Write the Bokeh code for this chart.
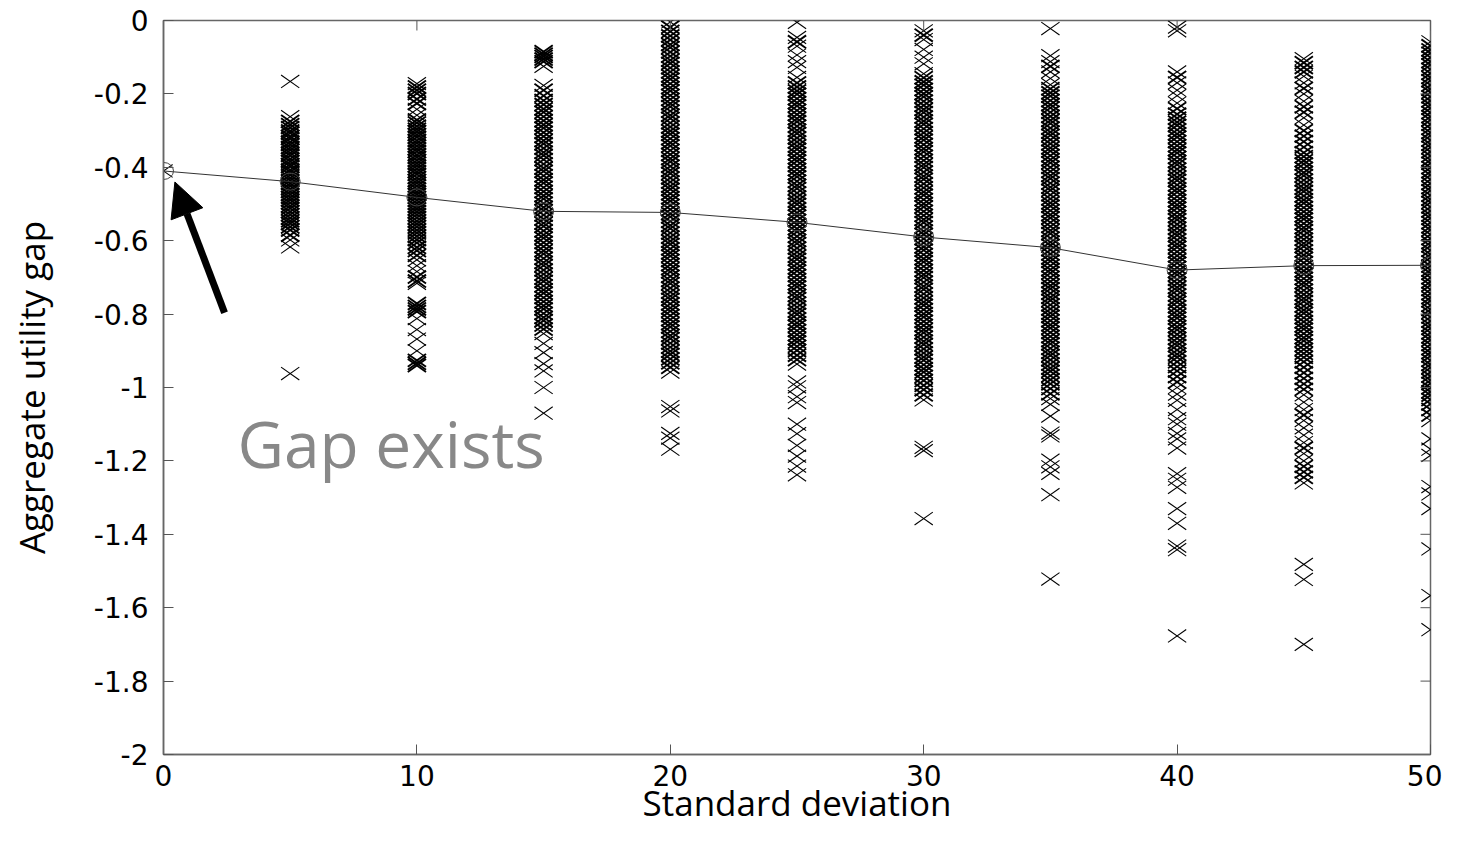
import numpy as np
from bokeh.plotting import figure
from bokeh.models import (ColumnDataSource, Range1d, FixedTicker,
                          Arrow, NormalHead, Label)
from bokeh.embed import file_html
from bokeh.resources import INLINE

# ---------------- data ----------------
std_devs = [0, 5, 10, 15, 20, 25, 30, 35, 40, 45, 50]

gap_sd0 = [-0.41]
gap_sd5 = [-0.166, -0.262, -0.275, -0.284, -0.292, -0.301, -0.307, -0.316, -0.322, -0.331, -0.338,
           -0.346, -0.353, -0.361, -0.368, -0.377, -0.384, -0.392, -0.398, -0.407, -0.413, -0.421,
           -0.429, -0.436, -0.444, -0.451, -0.459, -0.466, -0.474, -0.482, -0.489, -0.497, -0.505,
           -0.512, -0.521, -0.529, -0.538, -0.546, -0.553, -0.562, -0.571, -0.585, -0.598, -0.617,
           -0.962]
gap_sd10 = [-0.172, -0.181, -0.19, -0.199, -0.214, -0.226, -0.242, -0.258, -0.271, -0.279, -0.288,
            -0.296, -0.303, -0.311, -0.318, -0.327, -0.334, -0.342, -0.35, -0.357, -0.366, -0.373,
            -0.381, -0.389, -0.396, -0.404, -0.412, -0.419, -0.428, -0.436, -0.443, -0.451, -0.459,
            -0.467, -0.474, -0.482, -0.49, -0.498, -0.506, -0.513, -0.521, -0.529, -0.537, -0.546,
            -0.554, -0.562, -0.571, -0.579, -0.588, -0.597, -0.606, -0.618, -0.627, -0.64, -0.652,
            -0.668, -0.684, -0.699, -0.71, -0.716, -0.771, -0.779, -0.786, -0.793, -0.812, -0.842,
            -0.868, -0.9, -0.926, -0.934, -0.94]
gap_sd15 = [-0.085, -0.092, -0.098, -0.105, -0.112, -0.125, -0.177, -0.19, -0.205,
            -0.218, -0.229, -0.241, -0.25, -0.262, -0.273, -0.284, -0.293, -0.305, -0.316, -0.327,
            -0.336, -0.348, -0.359, -0.368, -0.379, -0.391, -0.402, -0.411, -0.423, -0.434, -0.443,
            -0.455, -0.466, -0.477, -0.486, -0.498, -0.509, -0.518, -0.53, -0.541, -0.552, -0.561,
            -0.573, -0.584, -0.593, -0.605, -0.616, -0.627, -0.636, -0.648, -0.659, -0.668, -0.68,
            -0.691, -0.702, -0.711, -0.723, -0.734, -0.743, -0.755, -0.766, -0.777, -0.786, -0.798,
            -0.809, -0.818, -0.83, -0.841, -0.853, -0.88, -0.905, -0.935, -0.955, -1.0, -1.07]
gap_sd20 = [-0.004, -0.018, -0.03, -0.042, -0.053, -0.065, -0.074, -0.086, -0.097, -0.108, -0.117,
            -0.129, -0.14, -0.151, -0.16, -0.172, -0.183, -0.192, -0.204, -0.215, -0.226, -0.235,
            -0.247, -0.258, -0.267, -0.279, -0.29, -0.301, -0.31, -0.322, -0.333, -0.342, -0.354,
            -0.365, -0.376, -0.385, -0.397, -0.408, -0.417, -0.429, -0.44, -0.451, -0.46, -0.472,
            -0.483, -0.492, -0.504, -0.515, -0.526, -0.535, -0.547, -0.558, -0.567, -0.579, -0.59,
            -0.601, -0.61, -0.622, -0.633, -0.642, -0.654, -0.665, -0.676, -0.685, -0.697, -0.708,
            -0.717, -0.729, -0.74, -0.751, -0.76, -0.772, -0.783, -0.792, -0.804, -0.815, -0.826,
            -0.835, -0.847, -0.858, -0.867, -0.879, -0.89, -0.901, -0.91, -0.922, -0.933, -0.945,
            -0.958, -1.052, -1.064, -1.125, -1.138, -1.168]
gap_sd25 = [-0.005, -0.046, -0.058, -0.07, -0.094, -0.112, -0.128, -0.155,
            -0.17, -0.181, -0.192, -0.201, -0.213, -0.224, -0.233, -0.245, -0.256, -0.267, -0.276,
            -0.288, -0.299, -0.308, -0.32, -0.331, -0.342, -0.351, -0.363, -0.374, -0.383, -0.395,
            -0.406, -0.417, -0.426, -0.438, -0.449, -0.458, -0.47, -0.481, -0.492, -0.501, -0.513,
            -0.524, -0.533, -0.545, -0.556, -0.567, -0.576, -0.588, -0.599, -0.608, -0.62, -0.631,
            -0.642, -0.651, -0.663, -0.674, -0.683, -0.695, -0.706, -0.717, -0.726, -0.738, -0.749,
            -0.758, -0.77, -0.781, -0.792, -0.801, -0.813, -0.824, -0.833, -0.845, -0.856, -0.867,
            -0.876, -0.888, -0.899, -0.912, -0.924, -0.936, -0.985, -0.998, -1.025, -1.041, -1.1,
            -1.126, -1.158, -1.187, -1.214, -1.238]
gap_sd30 = [-0.028, -0.04, -0.052, -0.079, -0.1, -0.118,
            -0.145, -0.156, -0.167, -0.176, -0.188, -0.199, -0.208, -0.22, -0.231, -0.242, -0.251,
            -0.263, -0.274, -0.283, -0.295, -0.306, -0.317, -0.326, -0.338, -0.349, -0.358, -0.37,
            -0.381, -0.392, -0.401, -0.413, -0.424, -0.433, -0.445, -0.456, -0.467, -0.476, -0.488,
            -0.499, -0.508, -0.52, -0.531, -0.542, -0.551, -0.563, -0.574, -0.583, -0.595, -0.606,
            -0.617, -0.626, -0.638, -0.649, -0.658, -0.67, -0.681, -0.692, -0.701, -0.713, -0.724,
            -0.733, -0.745, -0.756, -0.767, -0.776, -0.788, -0.799, -0.808, -0.82, -0.831, -0.842,
            -0.851, -0.863, -0.874, -0.883, -0.895, -0.906, -0.917, -0.926, -0.938, -0.949, -0.958,
            -0.97, -0.981, -0.994, -1.006, -1.02, -1.034, -1.163, -1.172, -1.357]
gap_sd35 = [-0.022, -0.096, -0.112, -0.125, -0.14, -0.158,
            -0.175, -0.186, -0.197, -0.206, -0.218, -0.229, -0.238, -0.25, -0.261, -0.272, -0.281,
            -0.293, -0.304, -0.313, -0.325, -0.336, -0.347, -0.356, -0.368, -0.379, -0.388, -0.4,
            -0.411, -0.422, -0.431, -0.443, -0.454, -0.463, -0.475, -0.486, -0.497, -0.506, -0.518,
            -0.529, -0.538, -0.55, -0.561, -0.572, -0.581, -0.593, -0.604, -0.613, -0.625, -0.636,
            -0.647, -0.656, -0.668, -0.679, -0.688, -0.7, -0.711, -0.722, -0.731, -0.743, -0.754,
            -0.763, -0.775, -0.786, -0.797, -0.806, -0.818, -0.829, -0.838, -0.85, -0.861, -0.872,
            -0.881, -0.893, -0.904, -0.913, -0.925, -0.936, -0.947, -0.956, -0.968, -0.979, -0.99,
            -1.003, -1.017, -1.03, -1.046, -1.078, -1.124, -1.132, -1.198, -1.216, -1.234, -1.292,
            -1.522]
gap_sd40 = [-0.018, -0.028, -0.14, -0.155, -0.17, -0.19, -0.205, -0.225, -0.24,
            -0.255, -0.266, -0.277, -0.286, -0.298, -0.309, -0.318, -0.33, -0.341, -0.352, -0.361,
            -0.373, -0.384, -0.393, -0.405, -0.416, -0.427, -0.436, -0.448, -0.459, -0.468, -0.48,
            -0.491, -0.502, -0.511, -0.523, -0.534, -0.543, -0.555, -0.566, -0.577, -0.586, -0.598,
            -0.609, -0.618, -0.63, -0.641, -0.652, -0.661, -0.673, -0.684, -0.693, -0.705, -0.716,
            -0.727, -0.736, -0.748, -0.759, -0.768, -0.78, -0.791, -0.802, -0.811, -0.823, -0.834,
            -0.843, -0.855, -0.866, -0.877, -0.886, -0.898, -0.909, -0.918, -0.93, -0.943, -0.955,
            -0.97, -0.985, -1.0, -1.018, -1.035, -1.06, -1.085, -1.1, -1.125, -1.14, -1.165,
            -1.235, -1.25, -1.272, -1.33, -1.37, -1.432, -1.442, -1.677]
gap_sd45 = [-0.104, -0.115, -0.128, -0.14, -0.152, -0.17, -0.185, -0.2, -0.22, -0.235, -0.25,
            -0.265, -0.285, -0.3, -0.315, -0.33, -0.345,
            -0.36, -0.371, -0.382, -0.391, -0.403, -0.414, -0.423, -0.435, -0.446, -0.457, -0.466,
            -0.478, -0.489, -0.498, -0.51, -0.521, -0.532, -0.541, -0.553, -0.564, -0.573, -0.585,
            -0.596, -0.607, -0.616, -0.628, -0.639, -0.648, -0.66, -0.671, -0.682, -0.691, -0.703,
            -0.714, -0.723, -0.735, -0.746, -0.757, -0.766, -0.778, -0.789, -0.798, -0.81, -0.821,
            -0.832, -0.841, -0.853, -0.864, -0.873, -0.885, -0.896, -0.907, -0.918, -0.93,
            -0.945, -0.96, -0.975, -0.99, -1.005, -1.02, -1.04, -1.06, -1.075, -1.09, -1.11, -1.13,
            -1.15, -1.165, -1.18, -1.2, -1.215, -1.23, -1.245, -1.26, -1.482, -1.523, -1.7]
gap_sd50 = [-0.058, -0.069, -0.08, -0.089, -0.101, -0.112, -0.121, -0.133, -0.144, -0.155, -0.164,
            -0.176, -0.187, -0.196, -0.208, -0.219, -0.23, -0.239, -0.251, -0.262, -0.271, -0.283,
            -0.294, -0.305, -0.314, -0.326, -0.337, -0.346, -0.358, -0.369, -0.38, -0.389, -0.401,
            -0.412, -0.421, -0.433, -0.444, -0.455, -0.464, -0.476, -0.487, -0.496, -0.508, -0.519,
            -0.53, -0.539, -0.551, -0.562, -0.571, -0.583, -0.594, -0.605, -0.614, -0.626, -0.637,
            -0.646, -0.658, -0.669, -0.68, -0.689, -0.701, -0.712, -0.721, -0.733, -0.744, -0.755,
            -0.764, -0.776, -0.787, -0.796, -0.808, -0.819, -0.83, -0.839, -0.851, -0.862, -0.871,
            -0.883, -0.894, -0.905, -0.914, -0.926, -0.937, -0.946, -0.958, -0.969, -0.98, -0.989,
            -1.001, -1.012, -1.021, -1.033, -1.045, -1.06, -1.075, -1.09, -1.14, -1.168, -1.185,
            -1.27, -1.29, -1.33, -1.44, -1.567, -1.66]

mean_gap = [-0.41, -0.439, -0.482, -0.52, -0.523, -0.55, -0.59, -0.619, -0.68, -0.668, -0.667]

x_ticks = [0, 10, 20, 30, 40, 50]
y_ticks = [0, -0.2, -0.4, -0.6, -0.8, -1, -1.2, -1.4, -1.6, -1.8, -2]
y_tick_labels = ["0", "-0.2", "-0.4", "-0.6", "-0.8", "-1", "-1.2", "-1.4", "-1.6", "-1.8", "-2"]

x_title = "Standard deviation"
y_title = "Aggregate utility gap"
note_text = "Gap exists"

# ---------------- build ----------------
X_MIN, X_MAX, Y_MIN, Y_MAX = 0, 50, -2, 0
columns = [gap_sd0, gap_sd5, gap_sd10, gap_sd15, gap_sd20, gap_sd25, gap_sd30,
           gap_sd35, gap_sd40, gap_sd45, gap_sd50]
px, py, lw = [], [], []
for sd, vals in zip(std_devs, columns):
    v = np.array(vals, dtype=float)
    for val in v:
        # crosses inside a crowded run look heavier (many overlapping strokes)
        crowd = int(np.sum(np.abs(v - val) < 0.016)) - 1
        lw.append(1.9 if crowd >= 2 else 1.1)
    px.extend([sd] * len(vals))
    py.extend(vals)
px = np.array(px, dtype=float)
py = np.array(py, dtype=float)

# half-extent of each cross, in data units (crosses are wider than tall)
hx, hy = 0.36, 0.0175
cross = ColumnDataSource(dict(
    xa0=px - hx, ya0=py + hy, xa1=px + hx, ya1=py - hy,
    xb0=px - hx, yb0=py - hy, xb1=px + hx, yb1=py + hy, lw=lw))
means = ColumnDataSource(dict(x=std_devs, y=mean_gap))

p = figure(width=1442, height=829, output_backend="svg", toolbar_location=None,
           x_range=Range1d(X_MIN, X_MAX), y_range=Range1d(Y_MIN, Y_MAX),
           min_border_left=163, min_border_right=12, min_border_top=20, min_border_bottom=75,
           background_fill_color="white", border_fill_color="white")
p.grid.visible = False
p.outline_line_color = "#666666"
p.outline_line_width = 1.5

p.segment("xa0", "ya0", "xa1", "ya1", source=cross, line_color="black", line_width="lw")
p.segment("xb0", "yb0", "xb1", "yb1", source=cross, line_color="black", line_width="lw")
p.line("x", "y", source=means, line_color="#333333", line_width=1)
p.ellipse("x", "y", source=means, width=20, height=17, width_units="screen",
          height_units="screen", fill_color=None, line_color="#444444", line_width=1)

# mirrored inward ticks on the top and right edges
tick_dx = (X_MAX - X_MIN) * 10 / 1267
tick_dy = (Y_MAX - Y_MIN) * 10 / 734
xt = np.array(x_ticks, dtype=float)
yt = np.array(y_ticks, dtype=float)
p.segment(x0=xt, y0=np.full_like(xt, Y_MAX), x1=xt, y1=np.full_like(xt, Y_MAX - tick_dy),
          line_color="#555555", line_width=1)
p.segment(x0=np.full_like(yt, X_MAX), y0=yt, x1=np.full_like(yt, X_MAX - tick_dx), y1=yt,
          line_color="#555555", line_width=1)

tick_font = "DejaVu Sans"
title_font = "Open Sans"
for ax in (p.xaxis[0], p.yaxis[0]):
    ax.major_tick_in = 10
    ax.major_tick_out = 0
    ax.minor_tick_line_color = None
    ax.axis_line_color = "#666666"
    ax.axis_line_width = 1.5
    ax.major_tick_line_color = "#555555"
    ax.major_label_text_font = tick_font
    ax.major_label_text_font_size = "28px"
    ax.major_label_text_color = "black"
    ax.axis_label_text_font = title_font
    ax.axis_label_text_font_size = "35px"
    ax.axis_label_text_font_style = "normal"
    ax.axis_label_text_color = "black"

p.xaxis[0].ticker = FixedTicker(ticks=x_ticks)
p.yaxis[0].ticker = FixedTicker(ticks=y_ticks)
p.yaxis[0].major_label_overrides = {t: l for t, l in zip(y_ticks, y_tick_labels)}
p.xaxis[0].axis_label = x_title
p.yaxis[0].axis_label = y_title
p.xaxis[0].major_label_standoff = 10
p.yaxis[0].major_label_standoff = 15
p.xaxis[0].axis_label_standoff = -10
p.yaxis[0].axis_label_standoff = 36

p.add_layout(Arrow(end=NormalHead(size=34, fill_color="black", line_color="black", line_width=1),
                   x_start=2.41, y_start=-0.796, x_end=0.45, y_end=-0.44,
                   line_color="black", line_width=7))
p.add_layout(Label(x=2.92, y=-1.153, text=note_text, text_font=title_font,
                   text_font_size="64px", text_color="#888888", text_baseline="alphabetic"))

open("out.html", "w").write(file_html(p, INLINE))
